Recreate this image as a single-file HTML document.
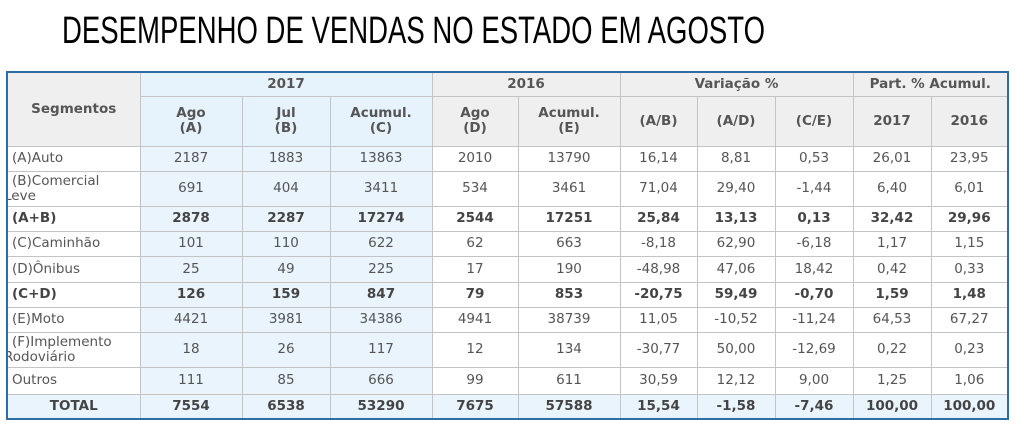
<!DOCTYPE html>
<html><head><meta charset="utf-8"><style>
body{margin:0;width:1024px;height:438px;background:#fff;overflow:hidden;position:relative;font-family:"DejaVu Sans",Verdana,sans-serif;}
svg.t{position:absolute;left:0;top:0}
table{position:absolute;left:6px;top:71px;border-collapse:collapse;border:2px solid #2e6da4;table-layout:fixed;font-size:13.5px;color:#555}
td,th{border:1px solid #c4c4c4;text-align:center;padding:0;line-height:15px;overflow:hidden;white-space:nowrap}
th{background:#efefef;color:#555;font-weight:bold}
th.b{background:#e6f2fc}
td.b{background:#e9f4fd}
td.l{text-align:left;padding-left:4px}
tr.bo td{font-weight:bold;color:#444}
tr.tot td{background:#e9f4fd;font-weight:bold;color:#444}
</style></head><body>
<svg class="t" width="1024" height="60"><text x="62" y="43" font-family="Liberation Sans, sans-serif" font-size="38" textLength="703" lengthAdjust="spacingAndGlyphs" fill="#000">DESEMPENHO DE VENDAS NO ESTADO EM AGOSTO</text></svg>
<table>
<colgroup><col style="width:133px"><col style="width:102px"><col style="width:88px"><col style="width:102px"><col style="width:86px"><col style="width:102px"><col style="width:77px"><col style="width:78px"><col style="width:78px"><col style="width:78px"><col style="width:77px"></colgroup>
<tr style="height:24px"><th rowspan="2">Segmentos</th><th class="b" colspan="3">2017</th><th colspan="2">2016</th><th colspan="3">Variação %</th><th colspan="2">Part. % Acumul.</th></tr>
<tr style="height:50px"><th class="b">Ago<br>(A)</th><th class="b">Jul<br>(B)</th><th class="b">Acumul.<br>(C)</th><th>Ago<br>(D)</th><th>Acumul.<br>(E)</th><th>(A/B)</th><th>(A/D)</th><th>(C/E)</th><th>2017</th><th>2016</th></tr>
<tr style="height:25px"><td class="l">(A)Auto</td><td class="b">2187</td><td class="b">1883</td><td class="b">13863</td><td>2010</td><td>13790</td><td>16,14</td><td>8,81</td><td>0,53</td><td>26,01</td><td>23,95</td></tr>
<tr style="height:35px"><td class="l" style="padding-left:0;text-indent:4px">(B)Comercial<br><span style="margin-left:-4px">Leve</span></td><td class="b">691</td><td class="b">404</td><td class="b">3411</td><td>534</td><td>3461</td><td>71,04</td><td>29,40</td><td>-1,44</td><td>6,40</td><td>6,01</td></tr>
<tr class="bo" style="height:25px"><td class="l">(A+B)</td><td class="b">2878</td><td class="b">2287</td><td class="b">17274</td><td>2544</td><td>17251</td><td>25,84</td><td>13,13</td><td>0,13</td><td>32,42</td><td>29,96</td></tr>
<tr style="height:25px"><td class="l">(C)Caminhão</td><td class="b">101</td><td class="b">110</td><td class="b">622</td><td>62</td><td>663</td><td>-8,18</td><td>62,90</td><td>-6,18</td><td>1,17</td><td>1,15</td></tr>
<tr style="height:26px"><td class="l">(D)Ônibus</td><td class="b">25</td><td class="b">49</td><td class="b">225</td><td>17</td><td>190</td><td>-48,98</td><td>47,06</td><td>18,42</td><td>0,42</td><td>0,33</td></tr>
<tr class="bo" style="height:25px"><td class="l">(C+D)</td><td class="b">126</td><td class="b">159</td><td class="b">847</td><td>79</td><td>853</td><td>-20,75</td><td>59,49</td><td>-0,70</td><td>1,59</td><td>1,48</td></tr>
<tr style="height:25px"><td class="l">(E)Moto</td><td class="b">4421</td><td class="b">3981</td><td class="b">34386</td><td>4941</td><td>38739</td><td>11,05</td><td>-10,52</td><td>-11,24</td><td>64,53</td><td>67,27</td></tr>
<tr style="height:35px"><td class="l" style="padding-left:0;text-indent:4px">(F)Implemento<br><span style="margin-left:-4px">Rodoviário</span></td><td class="b">18</td><td class="b">26</td><td class="b">117</td><td>12</td><td>134</td><td>-30,77</td><td>50,00</td><td>-12,69</td><td>0,22</td><td>0,23</td></tr>
<tr style="height:27px"><td class="l">Outros</td><td class="b">111</td><td class="b">85</td><td class="b">666</td><td>99</td><td>611</td><td>30,59</td><td>12,12</td><td>9,00</td><td>1,25</td><td>1,06</td></tr>
<tr class="tot" style="height:25px"><td>TOTAL</td><td>7554</td><td>6538</td><td>53290</td><td>7675</td><td>57588</td><td>15,54</td><td>-1,58</td><td>-7,46</td><td>100,00</td><td>100,00</td></tr>
</table>
</body></html>
